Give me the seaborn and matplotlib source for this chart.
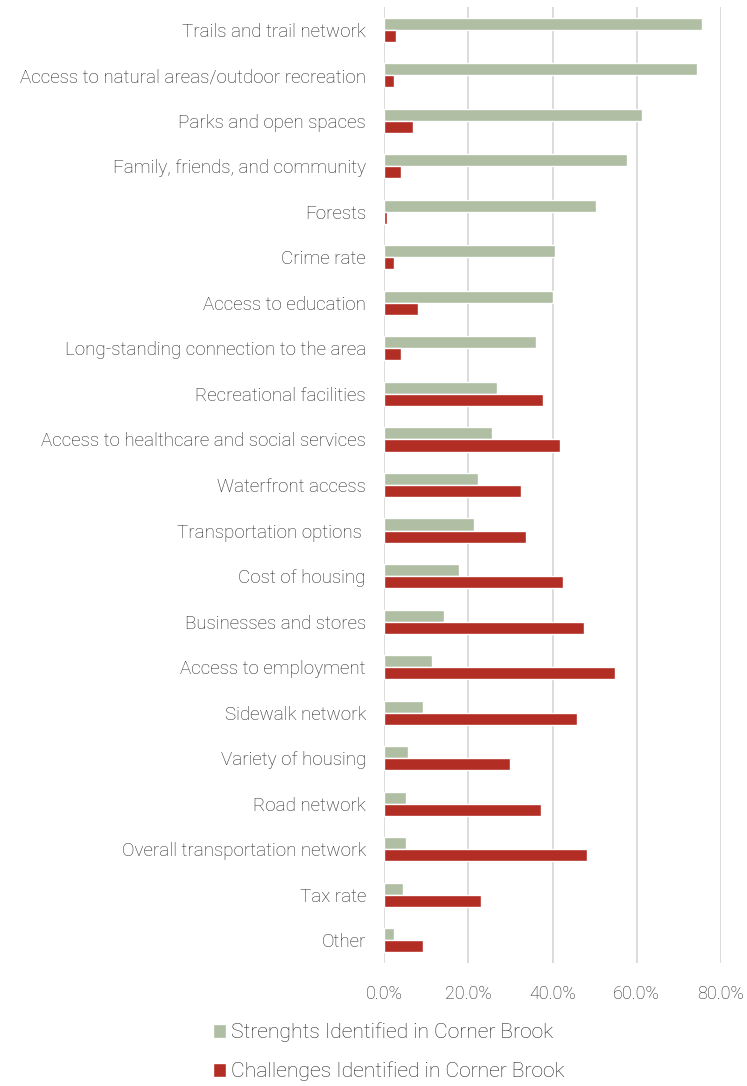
import matplotlib
matplotlib.use("Agg")
import matplotlib.pyplot as plt
from matplotlib.patches import Patch
from matplotlib.ticker import PercentFormatter
import seaborn as sns
import pandas as pd

categories = [
    "Trails and trail network",
    "Access to natural areas/outdoor recreation",
    "Parks and open spaces",
    "Family, friends, and community",
    "Forests",
    "Crime rate",
    "Access to education",
    "Long-standing connection to the area",
    "Recreational facilities",
    "Access to healthcare and social services",
    "Waterfront access",
    "Transportation options ",
    "Cost of housing",
    "Businesses and stores",
    "Access to employment",
    "Sidewalk network",
    "Variety of housing",
    "Road network",
    "Overall transportation network",
    "Tax rate",
    "Other",
]
strengths = [75.5, 74.3, 61.2, 57.7, 50.4, 40.6, 40.1, 36.0, 26.9, 25.7,
             22.3, 21.3, 17.8, 14.3, 11.5, 9.3, 5.8, 5.2, 5.2, 4.6, 2.4]
challenges = [2.9, 2.4, 7.0, 4.1, 0.6, 2.4, 8.1, 4.1, 37.8, 41.7,
              32.6, 33.8, 42.4, 47.5, 54.9, 45.8, 29.8, 37.2, 48.1, 23.0, 9.3]
series_names = ["Strenghts Identified in Corner Brook",
                "Challenges Identified in Corner Brook"]
colors = ["#B0BEA4", "#B22D24"]
ticks = [0, 20, 40, 60, 80]

df = pd.DataFrame({
    "Category": categories * 2,
    "Value": strengths + challenges,
    "Series": [series_names[0]] * len(categories) + [series_names[1]] * len(categories),
})

sns.set_theme(style="white")
plt.rcParams["font.family"] = ["Roboto", "DejaVu Sans"]
plt.rcParams["font.weight"] = "light"
text_color = "#262626"

fig = plt.figure(figsize=(7.47, 10.86), dpi=100)
ax = fig.add_axes([384 / 747, 1 - 963 / 1086, (721 - 384) / 747, (963 - 7) / 1086])

sns.barplot(data=df, y="Category", x="Value", hue="Series", orient="h",
            palette=colors, width=0.53, ax=ax, legend=False, saturation=1,
            order=categories, hue_order=series_names)

ax.set_xlim(0, 80)
ax.set_ylim(len(categories) - 0.5, -0.5)
ax.set_xticks(ticks)
ax.xaxis.set_major_formatter(PercentFormatter(decimals=1))
ax.set_xlabel("")
ax.set_ylabel("")
ax.grid(axis="x", color="#D9D9D9", linewidth=1.3)
ax.set_axisbelow(True)
for s in ax.spines.values():
    s.set_visible(False)
ax.tick_params(axis="y", length=0, pad=13, labelsize=13.5, labelcolor=text_color)
ax.tick_params(axis="x", length=0, pad=16, labelsize=13, labelcolor=text_color)
for lbl in ax.get_xticklabels() + ax.get_yticklabels():
    lbl.set_fontweight("light")

handles = [Patch(facecolor=c, label=n) for c, n in zip(colors, series_names)]
leg = fig.legend(handles=handles, loc="center left", bbox_to_anchor=(213 / 747, 1 - 1052 / 1086),
                 frameon=False, fontsize=15.2, handlelength=0.62, handleheight=0.6,
                 handletextpad=0.25, labelspacing=0.92, borderpad=0, borderaxespad=0,
                 labelcolor=text_color)
for t in leg.get_texts():
    t.set_fontweight("light")

fig.savefig("out.png", dpi=100)
